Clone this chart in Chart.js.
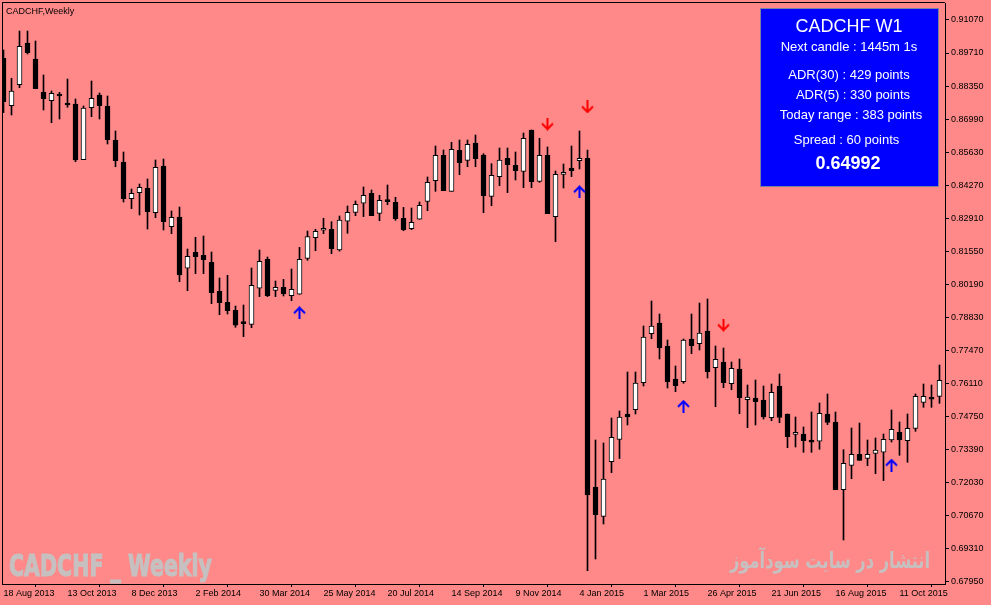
<!DOCTYPE html>
<html><head><meta charset="utf-8">
<script src="https://cdn.jsdelivr.net/npm/chart.js@4.4.1/dist/chart.umd.min.js"></script>
<style>html,body{margin:0;padding:0;background:#FF8888;overflow:hidden}canvas{display:block}</style>
</head><body>
<canvas id="c" width="991" height="605"></canvas>
<script>
// Weekly CADCHF candles, one per week starting 18 Aug 2013
const dateLabels = ["18 Aug 2013","13 Oct 2013","8 Dec 2013","2 Feb 2014","30 Mar 2014","25 May 2014","20 Jul 2014","14 Sep 2014","9 Nov 2014","4 Jan 2015","1 Mar 2015","26 Apr 2015","21 Jun 2015","16 Aug 2015","11 Oct 2015"];
const labelEvery = 8;
const openP = [0.89492,0.87540,0.88405,0.90123,0.89464,0.88104,0.87746,0.88022,0.87651,0.87610,
0.85316,0.87458,0.87981,0.87528,0.86127,0.85221,0.83709,0.83957,0.84150,0.83133,
0.85056,0.82556,0.82956,0.80843,0.81502,0.81378,0.81090,0.79895,0.79442,0.79113,
0.78618,0.78536,0.80019,0.81213,0.79936,0.80060,0.79714,0.79772,0.81254,0.82103,
0.82408,0.82449,0.81596,0.82779,0.83149,0.83520,0.83932,0.83108,0.83615,0.83561,
0.82902,0.82474,0.82861,0.83602,0.84451,0.85497,0.84014,0.85703,0.85291,0.86004,
0.85509,0.83808,0.84616,0.85373,0.85085,0.84838,0.86539,0.84426,0.85497,0.82968,
0.84714,0.84974,0.85275,0.85373,0.71834,0.70627,0.72876,0.73791,0.74841,0.75018,
0.76130,0.78149,0.78589,0.77642,0.76283,0.76172,0.77930,0.77737,0.78260,0.76748,
0.76983,0.76089,0.76695,0.75430,0.75500,0.75418,0.74689,0.75995,0.74841,0.74005,
0.74017,0.73770,0.73717,0.74841,0.74512,0.71723,0.72728,0.73181,0.73016,0.73222,
0.73264,0.73770,0.74100,0.73741,0.74252,0.75323,0.75500,0.75570];
const highP = [0.89834,0.88669,0.90617,0.90617,0.90205,0.88805,0.88145,0.88092,0.88640,0.87816,
0.87528,0.88557,0.88063,0.87940,0.86498,0.85633,0.84109,0.84315,0.84521,0.85303,
0.85345,0.83203,0.83368,0.81637,0.82119,0.82173,0.81514,0.80443,0.80554,0.79290,
0.79331,0.80855,0.81596,0.81308,0.80319,0.80389,0.80814,0.81707,0.82379,0.82449,
0.82902,0.82762,0.82997,0.83409,0.83615,0.84191,0.84068,0.83849,0.84274,0.83767,
0.83355,0.83326,0.83573,0.84603,0.85880,0.85715,0.86033,0.86127,0.86127,0.86333,
0.85563,0.85151,0.85798,0.85798,0.85633,0.86416,0.86539,0.86197,0.85839,0.84850,
0.85139,0.85880,0.86498,0.85715,0.73770,0.73647,0.74676,0.74965,0.76571,0.76571,
0.78466,0.79496,0.78960,0.77889,0.76818,0.77930,0.78960,0.79413,0.79578,0.77642,
0.77560,0.76983,0.77107,0.76036,0.76242,0.75995,0.76077,0.76489,0.74841,0.74718,
0.74306,0.74924,0.75294,0.75665,0.74924,0.73371,0.74265,0.74470,0.73770,0.73853,
0.74017,0.75006,0.74512,0.74841,0.75665,0.76077,0.76036,0.76859];
const lowP = [0.87252,0.87157,0.88281,0.89670,0.88240,0.87363,0.86840,0.86992,0.87474,0.85233,
0.85316,0.87087,0.86992,0.85962,0.85027,0.83573,0.83297,0.83038,0.82461,0.82927,
0.82420,0.82268,0.80291,0.79920,0.80620,0.80620,0.79384,0.78931,0.78960,0.78412,
0.78025,0.78396,0.79673,0.79673,0.79673,0.79702,0.79508,0.79772,0.81172,0.81567,
0.82268,0.81444,0.81550,0.82284,0.83009,0.82968,0.83009,0.82803,0.83462,0.82820,
0.82391,0.82433,0.82861,0.83215,0.84014,0.84039,0.84014,0.84698,0.85027,0.85027,
0.83133,0.83421,0.84245,0.83957,0.84480,0.84162,0.84162,0.84385,0.83092,0.81938,
0.84150,0.84616,0.84933,0.68387,0.68869,0.70310,0.72423,0.73008,0.74388,0.74841,
0.75995,0.77943,0.77107,0.75912,0.75760,0.76106,0.77325,0.77477,0.76324,0.75142,
0.75924,0.75842,0.74854,0.74277,0.74388,0.74635,0.74565,0.74483,0.73453,0.73482,
0.73264,0.73264,0.73387,0.74400,0.71723,0.69651,0.72176,0.72934,0.72712,0.72382,
0.72094,0.73688,0.73140,0.72852,0.74129,0.75117,0.75117,0.75282];
const closeP = [0.87705,0.88145,0.89987,0.89723,0.88240,0.87828,0.88051,0.87940,0.87569,0.85303,
0.87445,0.87845,0.87540,0.86140,0.85275,0.83709,0.83932,0.84179,0.83174,0.85003,
0.82762,0.82943,0.80567,0.81337,0.81320,0.81197,0.79838,0.79426,0.79096,0.78495,
0.78561,0.80142,0.81131,0.79714,0.80060,0.79784,0.79978,0.81213,0.82144,0.82367,
0.82490,0.81650,0.82832,0.83149,0.83479,0.83849,0.83009,0.83643,0.83586,0.82886,
0.82433,0.82737,0.83438,0.84385,0.85497,0.84039,0.85744,0.85192,0.85950,0.85357,
0.83833,0.84673,0.85303,0.85110,0.84863,0.86197,0.84410,0.85497,0.83092,0.84714,
0.84797,0.84863,0.85373,0.71505,0.70693,0.72164,0.73881,0.74718,0.74718,0.76118,
0.78013,0.78466,0.77572,0.76159,0.76007,0.77889,0.77654,0.78178,0.76583,0.77094,
0.76130,0.76724,0.75513,0.75541,0.75348,0.74718,0.75735,0.74697,0.73906,0.74087,
0.73741,0.73676,0.74870,0.74499,0.71723,0.72811,0.73181,0.72934,0.73181,0.73358,
0.73799,0.74211,0.73770,0.74252,0.75570,0.75570,0.75447,0.76229];
const priceTicks = [0.91070,0.89710,0.88350,0.86990,0.85630,0.84270,0.82910,0.81550,0.80190,0.78830,0.77470,0.76110,0.74750,0.73390,0.72030,0.70670,0.69310,0.67950];
const upArrowIdx = [37,72,85,111];
const upArrowPrice = [0.79014,0.83998,0.75158,0.72740];
const downArrowIdx = [68,73,90];
const downArrowPrice = [0.86786,0.87487,0.78507];
const chartTitle = "CADCHF,Weekly";
const infoLines = ["CADCHF W1","Next candle : 1445m 1s","ADR(30) : 429 points","ADR(5) : 330 points","Today range : 383 points","Spread : 60 points","0.64992"];
const watermarkLeft = "CADCHF _ Weekly";
const watermarkRight = "انتشار در سایت سودآموز";

const idx = openP.map((_, i) => i);

function makeArrow(color, up) {
  const c = document.createElement('canvas');
  c.width = 13; c.height = 13;
  const g = c.getContext('2d');
  g.strokeStyle = color; g.lineWidth = 2; g.lineCap = 'butt';
  g.beginPath();
  if (up) {
    g.moveTo(6.5, 13); g.lineTo(6.5, 1.5);
    g.moveTo(1, 7); g.lineTo(6.5, 1.5); g.lineTo(12, 7);
  } else {
    g.moveTo(6.5, 0); g.lineTo(6.5, 11.5);
    g.moveTo(1, 6); g.lineTo(6.5, 11.5); g.lineTo(12, 6);
  }
  g.stroke();
  return c;
}

function noPad(s) {
  s.paddingTop = 0; s.paddingBottom = 0; s.paddingLeft = 0; s.paddingRight = 0;
}

const overlay = {
  id: 'overlay',
  beforeDatasetsDraw(chart) {
    const ctx = chart.ctx;
    ctx.save();
    ctx.fillStyle = '#C6C0C0';
    ctx.strokeStyle = '#C6C0C0';
    ctx.lineWidth = 1.2;
    ctx.font = 'bold 31px "DejaVu Sans", sans-serif';
    ctx.textAlign = 'left'; ctx.textBaseline = 'alphabetic';
    ctx.fillText(watermarkLeft, 9, 576, 203);
    ctx.strokeText(watermarkLeft, 9, 576, 203);
    ctx.font = 'bold 22px "DejaVu Sans", sans-serif';
    ctx.direction = 'rtl';
    ctx.textAlign = 'right';
    ctx.fillText(watermarkRight, 930, 568, 200);
    ctx.restore();
  },
  afterDraw(chart) {
    const ctx = chart.ctx;
    const a = chart.chartArea;
    ctx.save();
    ctx.fillStyle = '#000';
    ctx.fillRect(a.left, a.top - 1, a.right - a.left, 1);
    ctx.fillRect(a.left, a.top - 1, 1, a.bottom - a.top + 1);
    ctx.font = '9px "Liberation Sans", Arial, sans-serif';
    ctx.textAlign = 'left'; ctx.textBaseline = 'alphabetic';
    ctx.fillText(chartTitle, 6, 14);
    // info panel
    ctx.fillStyle = '#0000FF';
    ctx.fillRect(760, 8, 179, 179);
    ctx.strokeStyle = '#7F7F9F'; ctx.lineWidth = 1;
    ctx.strokeRect(760.5, 8.5, 178, 178);
    ctx.fillStyle = '#FFFFFF';
    ctx.textAlign = 'center';
    const fonts = ['18px','13px','13px','13px','13px','13px','bold 18px'];
    const xs = [849, 849, 849, 853, 851, 846.5, 848];
    const ys = [31.5, 50.5, 79, 99, 119, 143.5, 169];
    infoLines.forEach((t, k) => {
      ctx.font = fonts[k] + ' "Liberation Sans", Arial, sans-serif';
      ctx.fillText(t, xs[k], ys[k]);
    });
    ctx.restore();
  }
};

new Chart(document.getElementById('c'), {
  type: 'bar',
  data: {
    datasets: [
      {
        label: 'wick',
        data: idx.map(i => ({ x: i, y: [lowP[i], highP[i]] })),
        backgroundColor: '#000',
        borderWidth: 0,
        barThickness: 1,
        grouped: false,
        minBarLength: 1,
        order: 3
      },
      {
        label: 'body',
        data: idx.map(i => ({ x: i, y: [openP[i], closeP[i]] })),
        backgroundColor: idx.map(i => closeP[i] >= openP[i] ? '#FFFFFF' : '#000000'),
        borderColor: '#000',
        borderWidth: 1,
        borderSkipped: false,
        barThickness: 5,
        grouped: false,
        minBarLength: 2,
        order: 2
      },
      {
        type: 'line',
        label: 'up',
        data: upArrowIdx.map((i, k) => ({ x: i, y: upArrowPrice[k] })),
        showLine: false,
        pointStyle: makeArrow('#0000FF', true),
        pointRadius: 6,
        order: 1
      },
      {
        type: 'line',
        label: 'down',
        data: downArrowIdx.map((i, k) => ({ x: i, y: downArrowPrice[k] })),
        showLine: false,
        pointStyle: makeArrow('#FF0000', false),
        pointRadius: 6,
        order: 1
      }
    ]
  },
  options: {
    responsive: false,
    animation: false,
    devicePixelRatio: 1,
    layout: { autoPadding: false, padding: { left: 2, top: 3, right: 0, bottom: 0 } },
    plugins: { legend: { display: false }, tooltip: { enabled: false } },
    scales: {
      x: {
        type: 'linear',
        min: -0.1875,
        max: 117.6875,
        position: 'bottom',
        offset: false,
        afterBuildTicks: s => { s.ticks = dateLabels.map((_, k) => ({ value: k * labelEvery })); },
        afterFit: s => { s.height = 21; noPad(s); },
        grid: { drawOnChartArea: false, drawTicks: true, tickLength: 3, color: '#000', tickColor: '#000' },
        border: { display: true, color: '#000', width: 1 },
        ticks: {
          autoSkip: false, maxRotation: 0, minRotation: 0, align: 'start', padding: 1, color: '#000',
          font: { family: '"Liberation Sans", Arial, sans-serif', size: 9 },
          callback: v => dateLabels[Math.round(v / labelEvery)]
        }
      },
      y: {
        type: 'linear',
        position: 'right',
        min: 0.67839,
        max: 0.91770,
        afterBuildTicks: s => { s.ticks = priceTicks.map(v => ({ value: v })); },
        afterFit: s => { s.width = 46; noPad(s); },
        grid: { drawOnChartArea: false, drawTicks: true, tickLength: 4, color: '#000', tickColor: '#000' },
        border: { display: true, color: '#000', width: 1 },
        ticks: {
          color: '#000', padding: 2,
          font: { family: '"Liberation Sans", Arial, sans-serif', size: 9 },
          callback: v => Number(v).toFixed(5)
        }
      }
    }
  },
  plugins: [overlay]
});
</script>
</body></html>
